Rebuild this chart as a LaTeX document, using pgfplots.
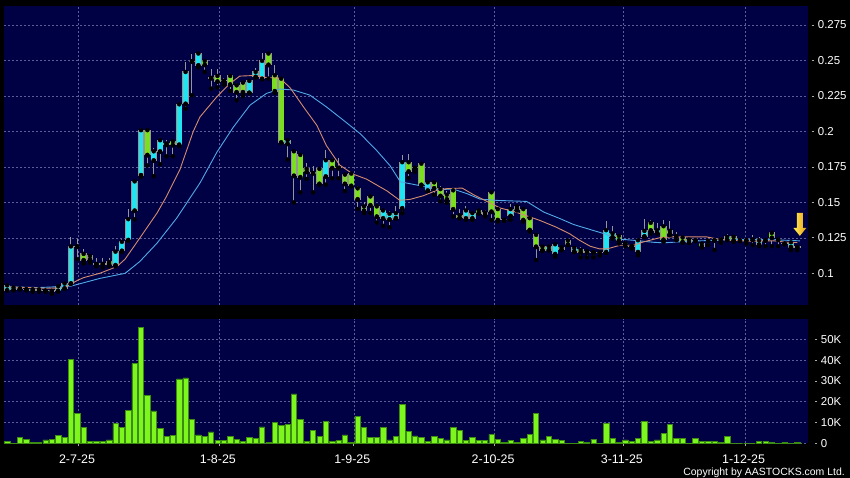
\documentclass[border=0pt]{standalone}
\usepackage{pgfplots}
\pgfplotsset{compat=1.18}
\usepackage{pgfplotstable}
\usepackage{fontspec}
\setmainfont{Liberation Sans}
\definecolor{navy}{RGB}{0,0,68}
\definecolor{gridc}{RGB}{92,92,150}
\definecolor{upc}{RGB}{34,228,240}
\definecolor{dnc}{RGB}{124,222,32}
\definecolor{wick}{RGB}{150,150,150}
\definecolor{volc}{RGB}{124,246,28}
\definecolor{vole}{RGB}{60,140,20}
\definecolor{maorange}{RGB}{214,140,110}
\definecolor{mablue}{RGB}{80,170,232}
\definecolor{tickc}{RGB}{170,170,170}
\newcommand\tdash{\textcolor{tickc}{\rule[0.3em]{2.6bp}{0.9bp}}\hspace{3.6bp}}
\newcommand\tickfont{\fontsize{11.5}{13}\selectfont}

\pgfplotstableread{
i o h l c v
0 0.0882 0.0920 0.0880 0.0915 0.8
1 0.0885 0.0912 0.0880 0.0900 0.1
2 0.0893 0.0900 0.0885 0.0893 2.7
3 0.0888 0.0895 0.0880 0.0888 1.9
4 0.0878 0.0890 0.0870 0.0888 0.6
5 0.0878 0.0890 0.0872 0.0888 0.3
6 0.0878 0.0880 0.0870 0.0878 1.7
7 0.0876 0.0880 0.0855 0.0876 2.0
8 0.0878 0.0912 0.0870 0.0910 3.9
9 0.0895 0.0930 0.0890 0.0928 3.0
10 0.0929 0.1255 0.0929 0.1190 40.4
11 0.1190 0.1245 0.1100 0.1190 14.5
12 0.1137 0.1170 0.1070 0.1094 7.6
13 0.1123 0.1125 0.1075 0.1099 0.9
14 0.1066 0.1105 0.1050 0.1066 0.9
15 0.1066 0.1105 0.1040 0.1066 0.9
16 0.1080 0.1110 0.1050 0.1066 1.7
17 0.1059 0.1190 0.1050 0.1153 9.5
18 0.1160 0.1240 0.1150 0.1222 7.6
19 0.1236 0.1450 0.1230 0.1382 16.0
20 0.1443 0.1660 0.1380 0.1648 38.3
21 0.1693 0.2025 0.1680 0.2009 55.7
22 0.2009 0.2025 0.1760 0.1835 23.0
23 0.1797 0.1885 0.1685 0.1860 15.6
24 0.1860 0.1943 0.1770 0.1938 7.1
25 0.1915 0.1943 0.1825 0.1908 3.2
26 0.1931 0.1943 0.1825 0.1905 3.8
27 0.1908 0.2203 0.1896 0.2191 31.0
28 0.2196 0.2490 0.2160 0.2419 31.5
29 0.2495 0.2544 0.2255 0.2495 11.5
30 0.2467 0.2549 0.2452 0.2549 4.1
31 0.2497 0.2502 0.2420 0.2471 3.5
32 0.2377 0.2438 0.2302 0.2377 5.5
33 0.2391 0.2443 0.2310 0.2353 1.4
34 0.2356 0.2380 0.2330 0.2356 1.4
35 0.2391 0.2403 0.2285 0.2332 3.2
36 0.2325 0.2344 0.2220 0.2278 1.9
37 0.2344 0.2356 0.2250 0.2278 1.1
38 0.2273 0.2356 0.2273 0.2356 2.7
39 0.2386 0.2450 0.2380 0.2419 2.4
40 0.2372 0.2554 0.2367 0.2497 7.9
41 0.2549 0.2556 0.2372 0.2471 0.5
42 0.2396 0.2471 0.2273 0.2285 10.1
43 0.2372 0.2372 0.1919 0.1924 8.8
44 0.1915 0.1943 0.1802 0.1938 9.0
45 0.1860 0.1860 0.1500 0.1689 23.8
46 0.1835 0.1849 0.1571 0.1679 11.5
47 0.1736 0.1778 0.1665 0.1717 0.8
48 0.1707 0.1755 0.1571 0.1707 6.2
49 0.1736 0.1743 0.1625 0.1632 3.2
50 0.1684 0.1868 0.1625 0.1797 10.7
51 0.1797 0.1814 0.1670 0.1743 0.9
52 0.1743 0.1814 0.1670 0.1743 1.4
53 0.1696 0.1710 0.1580 0.1632 4.1
54 0.1703 0.1710 0.1613 0.1618 0.5
55 0.1599 0.1613 0.1453 0.1523 13.1
56 0.1472 0.1500 0.1425 0.1443 7.7
57 0.1542 0.1542 0.1425 0.1481 2.7
58 0.1472 0.1472 0.1358 0.1401 3.0
59 0.1389 0.1453 0.1335 0.1443 7.7
60 0.1382 0.1436 0.1325 0.1420 1.7
61 0.1389 0.1472 0.1389 0.1424 3.2
62 0.1460 0.1837 0.1424 0.1783 18.8
63 0.1783 0.1840 0.1672 0.1719 5.7
64 0.1743 0.1755 0.1715 0.1743 3.6
65 0.1773 0.1773 0.1618 0.1625 2.8
66 0.1585 0.1648 0.1580 0.1641 0.9
67 0.1641 0.1641 0.1554 0.1601 3.2
68 0.1594 0.1613 0.1507 0.1547 2.5
69 0.1554 0.1580 0.1497 0.1523 1.7
70 0.1585 0.1585 0.1401 0.1453 7.7
71 0.1410 0.1453 0.1389 0.1391 6.2
72 0.1389 0.1472 0.1377 0.1443 1.3
73 0.1389 0.1424 0.1377 0.1424 3.0
74 0.1443 0.1443 0.1424 0.1424 1.3
75 0.1429 0.1448 0.1401 0.1413 1.3
76 0.1571 0.1578 0.1375 0.1436 4.3
77 0.1453 0.1472 0.1365 0.1377 2.0
78 0.1377 0.1382 0.1370 0.1377 0.6
79 0.1406 0.1490 0.1377 0.1453 1.4
80 0.1453 0.1477 0.1443 0.1472 0.5
81 0.1453 0.1460 0.1365 0.1377 2.4
82 0.1389 0.1401 0.1295 0.1307 4.4
83 0.1271 0.1271 0.1094 0.1189 14.4
84 0.1189 0.1189 0.1160 0.1165 1.7
85 0.1165 0.1189 0.1165 0.1189 3.2
86 0.1137 0.1212 0.1118 0.1205 2.0
87 0.1184 0.1184 0.1167 0.1167 1.4
88 0.1231 0.1231 0.1203 0.1203 0.1
89 0.1156 0.1179 0.1149 0.1179 0.1
90 0.1165 0.1184 0.1113 0.1149 0.9
91 0.1156 0.1160 0.1113 0.1149 0.3
92 0.1149 0.1160 0.1113 0.1149 2.0
93 0.1146 0.1160 0.1125 0.1146 0.1
94 0.1151 0.1370 0.1144 0.1304 9.5
95 0.1257 0.1333 0.1245 0.1281 2.2
96 0.1264 0.1269 0.1210 0.1233 0.6
97 0.1210 0.1228 0.1191 0.1210 1.7
98 0.1191 0.1210 0.1175 0.1191 0.9
99 0.1151 0.1245 0.1128 0.1233 2.4
100 0.1262 0.1385 0.1257 0.1299 10.7
101 0.1356 0.1375 0.1280 0.1304 0.9
102 0.1288 0.1356 0.1280 0.1304 1.6
103 0.1332 0.1375 0.1222 0.1238 4.7
104 0.1300 0.1370 0.1269 0.1280 9.0
105 0.1262 0.1292 0.1233 0.1262 2.2
106 0.1252 0.1257 0.1217 0.1222 2.2
107 0.1219 0.1240 0.1215 0.1238 0.1
108 0.1233 0.1240 0.1226 0.1233 2.2
109 0.1210 0.1222 0.1182 0.1191 0.9
110 0.1229 0.1257 0.1198 0.1229 1.1
111 0.1233 0.1245 0.1165 0.1233 1.1
112 0.1238 0.1257 0.1215 0.1238 0.5
113 0.1240 0.1276 0.1233 0.1257 3.5
114 0.1257 0.1262 0.1222 0.1233 0.1
115 0.1233 0.1240 0.1226 0.1233 0.0
116 0.1233 0.1252 0.1210 0.1233 0.0
117 0.1238 0.1269 0.1198 0.1238 0.0
118 0.1205 0.1257 0.1191 0.1233 0.8
119 0.1233 0.1245 0.1191 0.1233 1.1
120 0.1285 0.1292 0.1191 0.1252 0.3
121 0.1238 0.1257 0.1191 0.1238 0.1
122 0.1210 0.1215 0.1205 0.1210 0.5
123 0.1186 0.1222 0.1163 0.1219 0.0
124 0.1186 0.1198 0.1163 0.1186 0.3
}\candles

\pgfplotsset{
  candle/.style={only marks, mark=none, error bars/.cd, y dir=plus, y explicit, error mark=none},
}

\begin{document}
\begin{tikzpicture}
\fill[black] (0,0) rectangle (850bp,-478bp);
\begin{axis}[
  at={(4bp,-6bp)}, anchor=north west,
  width=803.5bp, height=299bp, scale only axis,
  xmin=-0.5, xmax=125.6, ymin=0.0777, ymax=0.2884,
  axis background/.style={fill=navy},
  axis line style={draw=none},
  /pgf/number format/assume math mode=true,
  xtick={11.2,33.3,54.4,76.5,96.7,115.8}, xticklabel={},
  ytick={0.1,0.125,0.15,0.175,0.2,0.225,0.25,0.275},
  yticklabel pos=right,
  yticklabel={\tdash\pgfmathprintnumber[fixed,precision=3]{\tick}},
  yticklabel style={anchor=west, inner sep=0pt, xshift=4bp, text=white, font=\tickfont},
  major tick length=0pt,
  grid=major,
  major grid style={draw=gridc, dash pattern=on 2bp off 2bp, line width=0.6bp},
]
\addplot[candle, error bar style={draw=wick, line width=1bp}]
  table[x=i, y=l, y error expr={\thisrow{h}-\thisrow{l}}] {\candles};
\addplot[candle, error bar style={draw=wick, line width=6.4bp}]
  table[x=i, y expr={min(\thisrow{o},\thisrow{c})-0.0004}, y error expr={abs(\thisrow{c}-\thisrow{o})+0.0008}] {\candles};
\addplot[candle, error bar style={draw=upc, line width=4.8bp}]
  table[x=i, y=o, y error expr={max(\thisrow{c}-\thisrow{o},0)}] {\candles};
\addplot[candle, error bar style={draw=dnc, line width=4.8bp}]
  table[x=i, y=c, y error expr={max(\thisrow{o}-\thisrow{c},0)}] {\candles};
\addplot[mablue, line width=0.9bp] coordinates {
(0,0.0905) (5,0.0900) (10,0.0910) (14.6,0.0965) (18.5,0.1000) (20.8,0.1083) (23.5,0.1212) (26.6,0.1389) (30.3,0.1640) (32.9,0.1853) (35.5,0.2031) (38.1,0.2185) (40.7,0.2268) (42.8,0.2299) (44.9,0.2292) (47.5,0.2256) (50.1,0.2173) (52.8,0.2078) (55.4,0.1984) (58,0.1865) (60.1,0.1758) (61.7,0.1645) (64.8,0.1618) (67.4,0.1590) (70,0.1594) (72.2,0.1561) (74.2,0.1523) (76.9,0.1514) (81.5,0.1507) (84.2,0.1432) (86.8,0.1385) (88.9,0.1344) (92,0.1302) (94.1,0.1274) (95.1,0.1245) (98.3,0.1233) (101.4,0.1219) (103,0.1215) (105.6,0.1222) (108.7,0.1229) (114,0.1238) (119.2,0.1238) (122.4,0.1233) (124.4,0.1229)
};
\addplot[maorange, line width=0.9bp] coordinates {
(0,0.0905) (3,0.0900) (6,0.0895) (9,0.0897) (10,0.0925) (11,0.0950) (12,0.0970) (14.5,0.1000) (17.2,0.1047) (18.5,0.1100) (20.8,0.1248) (23.5,0.1424) (25,0.1542) (27.1,0.1730) (29.2,0.2000) (30.25,0.2102) (32.9,0.2244) (35,0.2339) (36.5,0.2390) (38.6,0.2394) (40.7,0.2380) (42.8,0.2375) (44.4,0.2308) (46.5,0.2173) (48.6,0.2043) (50.1,0.1900) (52.2,0.1763) (54.3,0.1699) (56.4,0.1664) (59.6,0.1581) (61.6,0.1515) (63.2,0.1521) (65.3,0.1547) (67.4,0.1585) (69,0.1597) (71.4,0.1601) (73.2,0.1554) (75.3,0.1507) (77.4,0.1460) (79.5,0.1436) (82.6,0.1389) (83.6,0.1373) (86.2,0.1325) (88.3,0.1278) (89.9,0.1231) (91.5,0.1191) (93,0.1172) (94.1,0.1172) (96.2,0.1198) (98.3,0.1198) (99.9,0.1222) (102.5,0.1252) (104.6,0.1257) (109.8,0.1257) (111.9,0.1238) (114,0.1233) (116.1,0.1226) (120.3,0.1229) (122.4,0.1219) (124,0.1217)
};
\coordinate (arrowtip) at (axis cs:124.4,0.1264);
\end{axis}
\shade[left color={rgb,255:red,255;green,236;blue,90}, right color={rgb,255:red,232;green,160;blue,20}]
  (arrowtip) -- ++(-6.5bp,8bp) -- ++(3.5bp,0bp) -- ++(0bp,15bp) -- ++(6bp,0bp) -- ++(0bp,-15bp) -- ++(3.5bp,0bp) -- cycle;

\begin{axis}[
  at={(4bp,-319bp)}, anchor=north west,
  width=803.5bp, height=124.3bp, scale only axis,
  xmin=-0.5, xmax=125.6, ymin=0, ymax=59.8,
  axis background/.style={fill=navy},
  axis line style={draw=none},
  xtick={11.2,33.3,54.4,76.5,96.7,115.8},
  xticklabels={2-7-25,1-8-25,1-9-25,2-10-25,3-11-25,1-12-25},
  xticklabel style={anchor=base, inner sep=0pt, yshift=-17.5bp, xshift=-1.5bp, text=white, font=\fontsize{12.5}{14}\selectfont},
  xtick pos=bottom, tick align=outside, major tick length=3bp,
  xtick style={draw=tickc, line width=0.8bp},
  ytick={0,10,20,30,40,50},
  yticklabels={\tdash 0,\tdash 10K,\tdash 20K,\tdash 30K,\tdash 40K,\tdash 50K},
  yticklabel pos=right,
  ytick style={draw=none},
  yticklabel style={anchor=west, inner sep=0pt, xshift=4bp, text=white, font=\tickfont},
  grid=major,
  major grid style={draw=gridc, dash pattern=on 2bp off 2bp, line width=0.6bp},
]
\addplot[ybar, bar width=5.3bp, fill=volc, draw=vole, line width=0.5bp] table[x=i, y=v] {\candles};
\end{axis}

\node[anchor=base east, text=white, font=\fontsize{10.5}{12}\selectfont, inner sep=0pt] at (845bp,-475bp) {Copyright by AASTOCKS.com Ltd.};
\pgfresetboundingbox
\path[use as bounding box] (0,0) rectangle (850bp,-478bp);
\end{tikzpicture}
\end{document}
